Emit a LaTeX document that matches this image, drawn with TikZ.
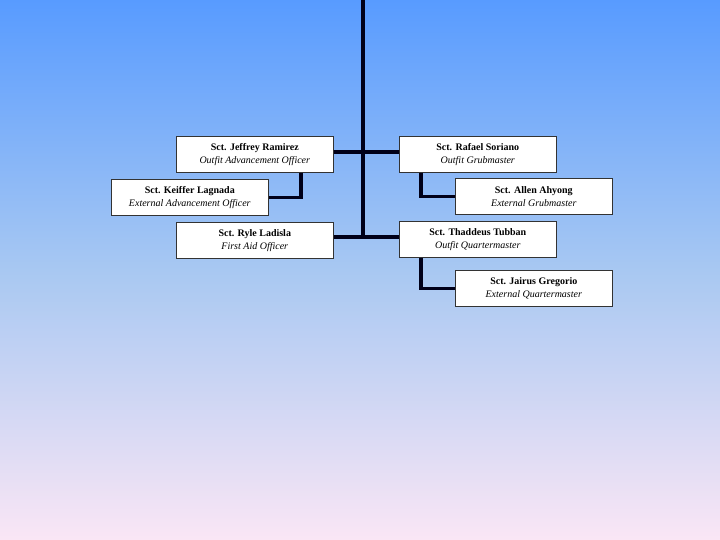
\documentclass[tikz,border=0pt]{standalone}
\usepackage{fontspec}
\setmainfont{Liberation Serif}
\begin{document}
\begin{tikzpicture}[x=1pt,y=-1pt,
  box/.style={draw=black!80,line width=0.6pt,fill=white,minimum width=157pt,minimum height=36pt,anchor=north west,inner sep=0pt,align=center,font=\fontsize{10}{13}\selectfont},
  conn/.style={line width=3.2pt,draw=black!90!blue}]
\shade[top color={rgb,255:red,88;green,155;blue,255},bottom color={rgb,255:red,250;green,230;blue,245},middle color={rgb,255:red,168;green,200;blue,242}] (0,0) rectangle (720,540);
\useasboundingbox (0,0) rectangle (720,540);
\coordinate (top) at (363,0);
\coordinate (mid) at (363,152);
\coordinate (bot) at (363,237);
\draw[conn] (top) -- (bot);
\node[box] (jeff) at (176,136) {\textbf{Sct. Jeffrey Ramirez}\\\textit{Outfit Advancement Officer}};
\node[box] (keif) at (111,179) {\textbf{Sct. Keiffer Lagnada}\\\textit{External Advancement Officer}};
\node[box] (ryle) at (176,222) {\textbf{Sct. Ryle Ladisla}\\\textit{First Aid Officer}};
\node[box] (raf) at (399,136) {\textbf{Sct. Rafael Soriano}\\\textit{Outfit Grubmaster}};
\node[box] (allen) at (455,178) {\textbf{Sct. Allen Ahyong}\\\textit{External Grubmaster}};
\node[box] (thad) at (399,221) {\textbf{Sct. Thaddeus Tubban}\\\textit{Outfit Quartermaster}};
\node[box] (jai) at (455,270) {\textbf{Sct. Jairus Gregorio}\\\textit{External Quartermaster}};
\draw[conn] (jeff.east |- mid) -- (mid);
\draw[conn] (raf.west |- mid) -- (mid);
\draw[conn] (ryle.east |- bot) -- (bot);
\draw[conn] (thad.west |- bot) -- (bot);
\draw[conn] (jeff.south -| 301,0) |- (keif.east);
\draw[conn] (raf.south -| 421,0) |- (allen.west);
\draw[conn] (thad.south -| 421,0) |- (jai.west);
\end{tikzpicture}
\end{document}
